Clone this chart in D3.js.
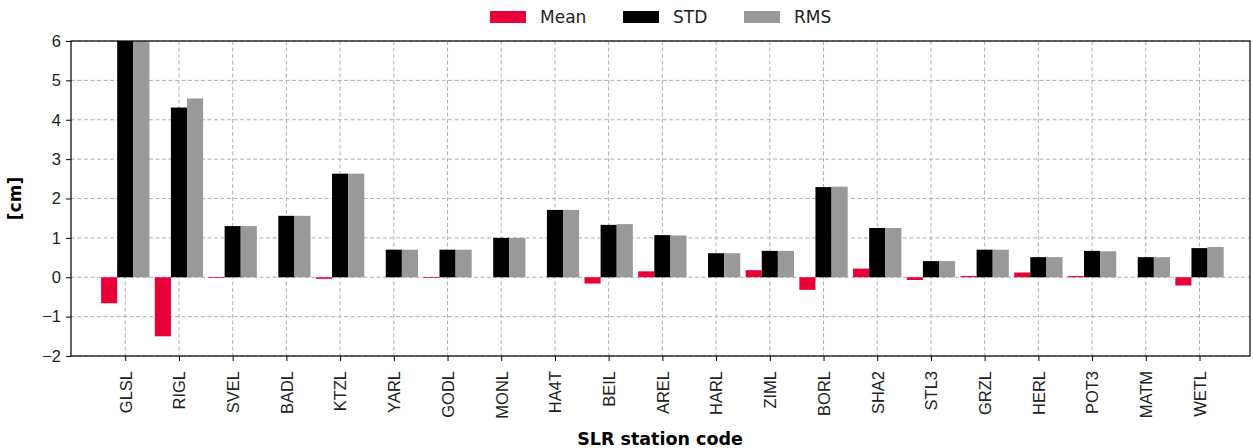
<!DOCTYPE html>
<html><head><meta charset="utf-8">
<script src="https://cdn.jsdelivr.net/npm/d3@7"></script>
<style>body{margin:0;background:#fff;}svg{display:block;font-family:"DejaVu Sans",sans-serif;}</style>
</head><body>
<script>
const stations = ["GLSL","RIGL","SVEL","BADL","KTZL","YARL","GODL","MONL","HA4T","BEIL","AREL","HARL","ZIML","BORL","SHA2","STL3","GRZL","HERL","POT3","MATM","WETL"];
const meanVals = [-0.66,-1.50,-0.02,0.00,-0.04,0.00,-0.02,0.00,0.00,-0.16,0.15,0.00,0.18,-0.32,0.22,-0.07,0.03,0.12,0.03,0.00,-0.21];
const stdVals  = [6.60,4.31,1.30,1.56,2.63,0.70,0.70,1.00,1.71,1.33,1.07,0.61,0.67,2.29,1.25,0.41,0.70,0.51,0.67,0.51,0.74];
const rmsVals  = [6.60,4.54,1.30,1.56,2.63,0.70,0.70,1.00,1.71,1.35,1.06,0.61,0.67,2.30,1.25,0.41,0.70,0.51,0.66,0.51,0.77];
const yTicks = [-2,-1,0,1,2,3,4,5,6];
const seriesNames = ["Mean","STD","RMS"];
const seriesColors = ["#e8003a","#000000","#999999"];

const W=1253,H=448;
const L=71,R=1250,T=41,B=356;
const svg=d3.select("body").append("svg").attr("width",W).attr("height",H);
const x=d3.scaleLinear().domain([-1.01,20.94]).range([L,R]);
const y=d3.scaleLinear().domain([-2,6]).range([B,T]);
const bw=0.3;

svg.append("defs").append("clipPath").attr("id","clip").append("rect")
  .attr("x",L).attr("y",T).attr("width",R-L).attr("height",B-T);

// grid
const g=svg.append("g");
g.selectAll(".gy").data(yTicks).enter().append("line")
  .attr("x1",L).attr("x2",R).attr("y1",d=>y(d)).attr("y2",d=>y(d))
  .attr("stroke","#b0b0b0").attr("stroke-width",1).attr("stroke-dasharray","4,2.5");
g.selectAll(".gx").data(stations).enter().append("line")
  .attr("x1",(d,i)=>x(i)).attr("x2",(d,i)=>x(i)).attr("y1",T).attr("y2",B)
  .attr("stroke","#b0b0b0").attr("stroke-width",1).attr("stroke-dasharray","4,2.5");

// bars
const series=[meanVals,stdVals,rmsVals];
const bars=svg.append("g").attr("clip-path","url(#clip)");
series.forEach((vals,k)=>{
  const off=(k-1)*bw-bw/2;
  bars.selectAll(".b"+k).data(vals).enter().append("rect")
    .attr("x",(d,i)=>x(i+off))
    .attr("width",(d,i)=>x(i+off+bw)-x(i+off))
    .attr("y",d=>y(Math.max(0,d)))
    .attr("height",d=>Math.abs(y(d)-y(0)))
    .attr("fill",seriesColors[k]);
});

// axes
const ax=d3.axisBottom(x).tickValues(d3.range(stations.length)).tickFormat(i=>stations[i]).tickSize(5).tickPadding(4);
const xg=svg.append("g").attr("transform",`translate(0,${B})`).call(ax);
xg.select(".domain").remove();
xg.selectAll("text").attr("transform","rotate(-90)").attr("text-anchor","end")
  .attr("x",-15).attr("y",0).attr("dy","0.35em").style("font-size","16.5px").attr("fill","#222");
const ay=d3.axisLeft(y).tickValues(yTicks).tickFormat(d=>d<0?"\u2212"+Math.abs(d):d).tickSize(5).tickPadding(5);
const yg=svg.append("g").attr("transform",`translate(${L},0)`).call(ay);
yg.select(".domain").remove();
yg.selectAll("text").style("font-size","16.5px").attr("fill","#222");
svg.selectAll(".tick line").attr("stroke","#000");

// frame
svg.append("rect").attr("x",L).attr("y",T).attr("width",R-L).attr("height",B-T)
  .attr("fill","none").attr("stroke","#000").attr("stroke-width",1.2);

// labels
svg.append("text").attr("transform",`translate(21,${(T+B)/2}) rotate(-90)`).attr("text-anchor","middle")
  .style("font-size","17px").style("font-weight","bold").text("[cm]");
svg.append("text").attr("x",660).attr("y",445).attr("text-anchor","middle")
  .style("font-size","17.5px").style("font-weight","bold").text("SLR station code");

// legend
const legX=[490,623,744];
const lg=svg.append("g");
seriesNames.forEach((n,k)=>{
  lg.append("rect").attr("x",legX[k]).attr("y",11).attr("width",36).attr("height",12).attr("fill",seriesColors[k]);
  lg.append("text").attr("x",legX[k]+50).attr("y",23).style("font-size","17px").attr("fill","#222").text(n);
});
</script>
</body></html>
